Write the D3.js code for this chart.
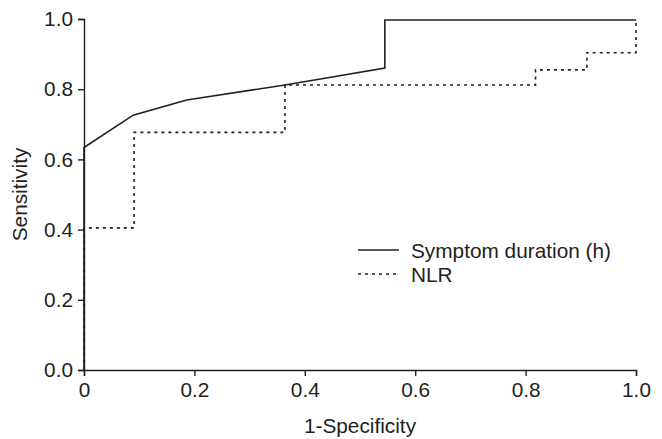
<!DOCTYPE html>
<html>
<head>
<meta charset="utf-8">
<script src="https://cdn.jsdelivr.net/npm/d3@7"></script>
<style>
  body { margin: 0; background: #fff; }
  text { font-family: "Liberation Sans", Arial, sans-serif; fill: #231f20; }
</style>
</head>
<body>
<div id="chart"></div>
<script>
// Data
const symptomX = [0, 0, 0.089, 0.186, 0.364, 0.545, 0.545, 1.0];
const symptomY = [0, 0.634, 0.726, 0.769, 0.812, 0.86, 0.997, 0.997];
const nlrX = [0, 0, 0.0907, 0.0907, 0.364, 0.364, 0.818, 0.818, 0.911, 0.911, 1.0, 1.0];
const nlrY = [0, 0.405, 0.405, 0.677, 0.677, 0.812, 0.812, 0.855, 0.855, 0.904, 0.904, 0.997];
const xTicks = [0, 0.2, 0.4, 0.6, 0.8, 1.0];
const yTicks = [0, 0.2, 0.4, 0.6, 0.8, 1.0];
const seriesNames = ["Symptom duration (h)", "NLR"];

const width = 662;
const height = 439;
const margin = { top: 19, right: 26, bottom: 69, left: 84 };
const ink = "#231f20";
const fontSize = 20.8;

const svg = d3
  .select("#chart")
  .append("svg")
  .attr("width", width)
  .attr("height", height);

const x = d3.scaleLinear().domain([0, 1]).range([margin.left, width - margin.right]);
const y = d3.scaleLinear().domain([0, 1]).range([height - margin.bottom, margin.top]);

// Axes
const xAxis = svg
  .append("g")
  .attr("transform", `translate(0,${y(0)})`)
  .call(
    d3.axisBottom(x)
      .tickValues(xTicks)
      .tickSizeOuter(0)
      .tickSize(6)
      .tickPadding(6)
      .tickFormat((d) => (d === 0 ? "0" : d3.format(".1f")(d)))
  );
const yAxis = svg
  .append("g")
  .attr("transform", `translate(${x(0)},0)`)
  .call(
    d3.axisLeft(y)
      .tickValues(yTicks)
      .tickSizeOuter(0)
      .tickSize(6)
      .tickPadding(5)
      .tickFormat(d3.format(".1f"))
  );
[xAxis, yAxis].forEach((g) => {
  g.selectAll("path, line").attr("stroke", ink).attr("stroke-width", 1.4);
  g.selectAll("text")
    .attr("font-size", fontSize)
    .attr("font-family", "Liberation Sans, Arial, sans-serif")
    .attr("fill", ink);
});

// Axis titles
svg
  .append("text")
  .attr("x", (x(0) + x(1)) / 2)
  .attr("y", 433)
  .attr("text-anchor", "middle")
  .attr("font-size", fontSize)
  .text("1-Specificity");
svg
  .append("text")
  .attr("transform", `translate(27,${(y(0) + y(1)) / 2}) rotate(-90)`)
  .attr("text-anchor", "middle")
  .attr("font-size", fontSize)
  .text("Sensitivity");

// Lines
const line = d3
  .line()
  .x((d) => x(d[0]))
  .y((d) => y(d[1]));

svg
  .append("path")
  .datum(d3.zip(nlrX, nlrY))
  .attr("fill", "none")
  .attr("stroke", ink)
  .attr("stroke-width", 1.6)
  .attr("stroke-dasharray", "3,4")
  .attr("d", line);

svg
  .append("path")
  .datum(d3.zip(symptomX, symptomY))
  .attr("fill", "none")
  .attr("stroke", ink)
  .attr("stroke-width", 1.6)
  .attr("d", line);

// Legend
const legend = svg.append("g").attr("transform", "translate(358,250)");
const dashes = [null, "3,4"];
seriesNames.forEach((name, i) => {
  const row = legend.append("g").attr("transform", `translate(0,${i * 24})`);
  row
    .append("line")
    .attr("x1", 0)
    .attr("x2", 41)
    .attr("stroke", ink)
    .attr("stroke-width", 1.6)
    .attr("stroke-dasharray", dashes[i]);
  row
    .append("text")
    .attr("x", 53)
    .attr("y", 7.5)
    .attr("font-size", fontSize)
    .text(name);
});
</script>
</body>
</html>
